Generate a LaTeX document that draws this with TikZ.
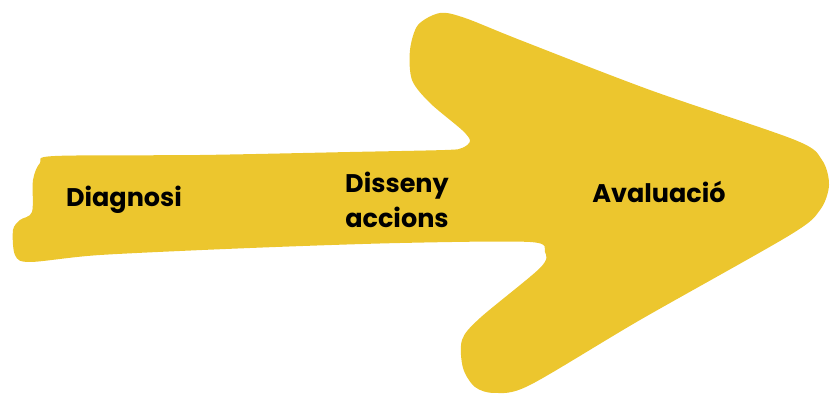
\documentclass[tikz,border=0pt]{standalone}
\usepackage{fontspec}
\setmainfont{Poppins}
\definecolor{arrowyellow}{RGB}{236,198,46}
\begin{document}
\begin{tikzpicture}[x=1pt,y=-1pt,
  lbl/.style={font=\fontsize{25.5}{35}\selectfont\bfseries, text=black, align=center, inner sep=0pt}]
\useasboundingbox (0,0) rectangle (831,395);
\fill[arrowyellow] plot[smooth cycle, tension=0.5] coordinates {
 (55,156) (200,155) (350,152) (445,150) (462,148) (470,141) (462,130) (430,103)
 (412,80) (410,50) (418,25) (440,13) (465,18) (520,40) (650,90) (795,140)
 (822,160) (829,185) (820,210) (790,235) (640,320) (530,385) (495,393) (475,387)
 (463,368) (462,340) (480,318) (540,268) (545,252) (530,242) (400,243) (250,248)
 (100,255) (30,262) (15,255) (13,230) (20,220) (32,212) (33,180) (40,163)};
\node[lbl] (diag) at (124,200) {Diagnosi};
\node[lbl] (diss) at (397,200) {Disseny\\accions};
\node[lbl] (aval) at (659,192) {Avaluació};
\end{tikzpicture}
\end{document}
